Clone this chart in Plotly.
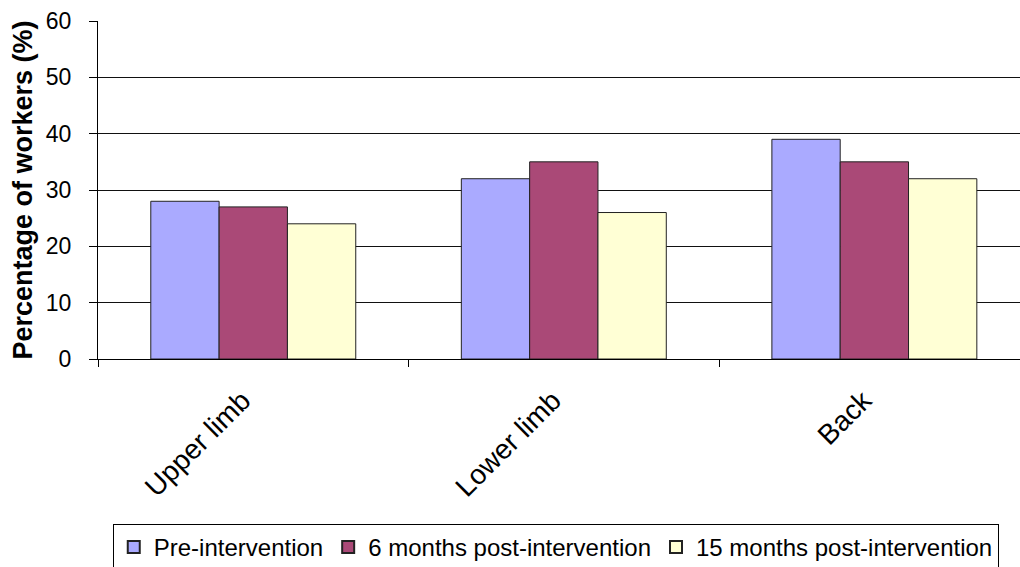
import plotly.graph_objects as go

# Body region categories and percentage of workers reporting symptoms
regions = ["Upper limb", "Lower limb", "Back"]
pre_intervention = [28, 32, 39]
six_months_post = [27, 35, 35]
fifteen_months_post = [24, 26, 32]

series_names = ["Pre-intervention", "6 months post-intervention", "15 months post-intervention"]
series_colors = ["#AAAAFF", "#AA4977", "#FFFFD5"]
y_ticks = [0, 10, 20, 30, 40, 50, 60]

FONT = "Liberation Sans, Arial, sans-serif"

fig = go.Figure()
for name, values, color in zip(series_names,
                               [pre_intervention, six_months_post, fifteen_months_post],
                               series_colors):
    fig.add_trace(go.Bar(
        x=regions, y=values, name=name,
        marker=dict(color=color, line=dict(color="#222222", width=1)),
    ))

fig.update_layout(
    width=1020, height=567,
    margin=dict(l=98, r=0, t=21, b=208, autoexpand=False),
    paper_bgcolor="white", plot_bgcolor="white",
    barmode="group", bargap=0.34, bargroupgap=0,
    font=dict(family=FONT, color="black"),
    showlegend=True,
    legend=dict(
        orientation="h", x=0.016, xanchor="left", y=-0.488, yanchor="top",
        bordercolor="black", borderwidth=1,
        font=dict(family=FONT, size=24, color="black"),
        itemsizing="constant", traceorder="normal",
    ),
)

fig.update_xaxes(
    type="category", range=[-0.5, 2.469], automargin=False,
    showline=True, linecolor="black", linewidth=1,
    ticks="outside", tickson="boundaries", ticklen=7, tickcolor="black",
    tickangle=-45, tickfont=dict(family=FONT, size=28, color="black"),
    ticksuffix="\u00a0\u00a0", ticklabelstandoff=2,
    showgrid=False,
)
fig.update_yaxes(
    range=[0, 60], tickvals=y_ticks, automargin=False,
    showline=True, linecolor="black", linewidth=1,
    ticks="outside", ticklen=8, tickcolor="black",
    tickfont=dict(family=FONT, size=23, color="black"),
    ticklabelstandoff=13,
    showgrid=True, gridcolor="#111111", gridwidth=1,
    zeroline=False,
    title=dict(text="<b>Percentage of workers (%)</b>",
               font=dict(family=FONT, size=27, color="black"), standoff=5),
)

fig.write_html("out.html")
